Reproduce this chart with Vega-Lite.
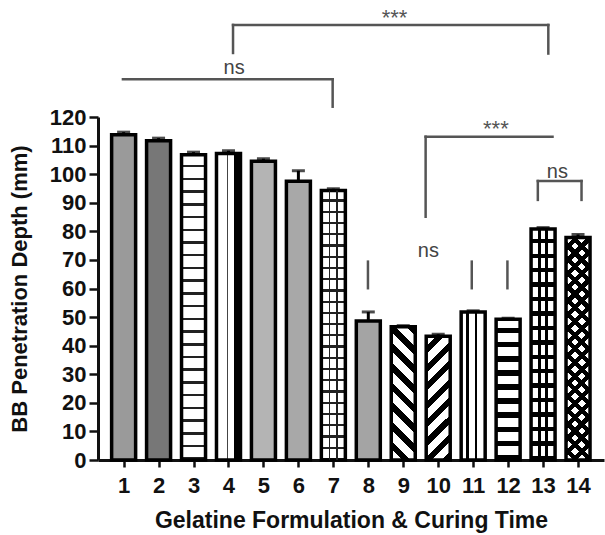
{
"$schema":"https://vega.github.io/schema/vega-lite/v6.json",
"width":506,"height":343,
"autosize":{"type":"none"},
"padding":{"left":98,"top":117,"right":1,"bottom":75},
"background":"white",
"config":{"view":{"stroke":null},"axis":{"grid":false},"font":"Liberation Sans"},
"datasets":{
"bars":[
{"g":1,"depth":113.8,"hi":114.7},
{"g":2,"depth":111.7,"hi":112.6},
{"g":3,"depth":106.8,"hi":107.7},
{"g":4,"depth":107.2,"hi":108.2},
{"g":5,"depth":104.5,"hi":105.4},
{"g":6,"depth":97.5,"hi":101.2},
{"g":7,"depth":94.3,"hi":94.9},
{"g":8,"depth":48.6,"hi":51.8},
{"g":9,"depth":46.6,"hi":47},
{"g":10,"depth":43.3,"hi":44},
{"g":11,"depth":51.8,"hi":52.2},
{"g":12,"depth":49.2,"hi":49.6},
{"g":13,"depth":80.8,"hi":81.3},
{"g":14,"depth":77.8,"hi":78.9}
],
"segs":[
{"g":4.13,"g2":13.15,"depth":152.2,"depth2":152.2},
{"g":4.13,"g2":4.13,"depth":152.2,"depth2":142.4},
{"g":13.15,"g2":13.15,"depth":152.2,"depth2":142.2},
{"g":0.98,"g2":6.98,"depth":133.2,"depth2":133.2},
{"g":6.98,"g2":6.98,"depth":133.2,"depth2":123.6},
{"g":9.64,"g2":13.27,"depth":113.1,"depth2":113.1},
{"g":9.64,"g2":9.64,"depth":113.1,"depth2":85.1},
{"g":12.85,"g2":14.1,"depth":97.6,"depth2":97.6},
{"g":12.85,"g2":12.85,"depth":97.6,"depth2":91},
{"g":14.1,"g2":14.1,"depth":97.6,"depth2":91},
{"g":7.99,"g2":7.99,"depth":69.4,"depth2":60.1},
{"g":10.96,"g2":10.96,"depth":69.4,"depth2":60.1},
{"g":11.98,"g2":11.98,"depth":69.4,"depth2":60.1}
],
"labels":[
{"g":8.75,"depth":156.4,"t":"***"},
{"g":11.65,"depth":117.6,"t":"***"},
{"g":4.16,"depth":137.1,"t":"ns"},
{"g":13.41,"depth":100.9,"t":"ns"},
{"g":9.72,"depth":73.1,"t":"ns"}
]
},
"data":{"name":"bars"},
"encoding":{
"x":{"field":"g","type":"quantitative","scale":{"domain":[0.41,14.6],"nice":false,"zero":false},
"axis":{"values":[1,2,3,4,5,6,7,8,9,10,11,12,13,14],"format":"d","title":"Gelatine Formulation & Curing Time","labelFont":"Liberation Sans","labelFontWeight":"bold","labelFontSize":22,"labelColor":"#111","labelPadding":8,"labelFlush":false,"labelOverlap":false,"labelBound":false,"tickSize":7,"tickWidth":2.5,"tickColor":"#111","domainColor":"#111","domainWidth":3,"titleFont":"Liberation Sans","titleFontWeight":"bold","titleFontSize":23,"titleColor":"#111","titlePadding":13}},
"y":{"field":"depth","type":"quantitative","scale":{"domain":[0,120],"nice":false},
"axis":{"values":[0,10,20,30,40,50,60,70,80,90,100,110,120],"format":"d","title":"BB Penetration Depth (mm)","labelFont":"Liberation Sans","labelFontWeight":"bold","labelFontSize":22,"labelColor":"#111","labelPadding":3,"labelOverlap":false,"labelBound":false,"tickSize":9,"tickWidth":2.5,"tickColor":"#111","domainColor":"#111","domainWidth":3,"titleFont":"Liberation Sans","titleFontWeight":"bold","titleFontSize":22,"titleColor":"#111","titlePadding":18}}
},
"layer":[
{"transform":[{"filter":"datum.g==1||datum.g==2||datum.g==5||datum.g==6||datum.g==8"}],
"mark":{"type":"bar","orient":"vertical","width":24,"stroke":"#000","strokeWidth":3.5},
"encoding":{"fill":{"field":"g","type":"nominal","scale":{"domain":[1,2,5,6,8],"range":["#9a9a9a","#777777","#b4b4b4","#a8a8a8","#a4a4a4"]},"legend":null}}},
{"transform":[{"filter":"datum.g==3||datum.g==7"}],
"mark":{"type":"bar","orient":"vertical","width":24,"stroke":"#000","strokeWidth":3.5,
"fill":{"gradient":"linear","x1":0,"y1":0,"x2":0,"y2":1,"stops":[
{"offset":0,"color":"#fff"},{"offset":0.0333,"color":"#fff"},{"offset":0.0333,"color":"#222"},{"offset":0.0417,"color":"#222"},
{"offset":0.0417,"color":"#fff"},{"offset":0.075,"color":"#fff"},{"offset":0.075,"color":"#222"},{"offset":0.0833,"color":"#222"},
{"offset":0.0833,"color":"#fff"},{"offset":0.1167,"color":"#fff"},{"offset":0.1167,"color":"#222"},{"offset":0.125,"color":"#222"},
{"offset":0.125,"color":"#fff"},{"offset":0.1583,"color":"#fff"},{"offset":0.1583,"color":"#222"},{"offset":0.1667,"color":"#222"},
{"offset":0.1667,"color":"#fff"},{"offset":0.2,"color":"#fff"},{"offset":0.2,"color":"#222"},{"offset":0.2083,"color":"#222"},
{"offset":0.2083,"color":"#fff"},{"offset":0.2417,"color":"#fff"},{"offset":0.2417,"color":"#222"},{"offset":0.25,"color":"#222"},
{"offset":0.25,"color":"#fff"},{"offset":0.2833,"color":"#fff"},{"offset":0.2833,"color":"#222"},{"offset":0.2917,"color":"#222"},
{"offset":0.2917,"color":"#fff"},{"offset":0.325,"color":"#fff"},{"offset":0.325,"color":"#222"},{"offset":0.3333,"color":"#222"},
{"offset":0.3333,"color":"#fff"},{"offset":0.3667,"color":"#fff"},{"offset":0.3667,"color":"#222"},{"offset":0.375,"color":"#222"},
{"offset":0.375,"color":"#fff"},{"offset":0.4083,"color":"#fff"},{"offset":0.4083,"color":"#222"},{"offset":0.4167,"color":"#222"},
{"offset":0.4167,"color":"#fff"},{"offset":0.45,"color":"#fff"},{"offset":0.45,"color":"#222"},{"offset":0.4583,"color":"#222"},
{"offset":0.4583,"color":"#fff"},{"offset":0.4917,"color":"#fff"},{"offset":0.4917,"color":"#222"},{"offset":0.5,"color":"#222"},
{"offset":0.5,"color":"#fff"},{"offset":0.5333,"color":"#fff"},{"offset":0.5333,"color":"#222"},{"offset":0.5417,"color":"#222"},
{"offset":0.5417,"color":"#fff"},{"offset":0.575,"color":"#fff"},{"offset":0.575,"color":"#222"},{"offset":0.5833,"color":"#222"},
{"offset":0.5833,"color":"#fff"},{"offset":0.6167,"color":"#fff"},{"offset":0.6167,"color":"#222"},{"offset":0.625,"color":"#222"},
{"offset":0.625,"color":"#fff"},{"offset":0.6583,"color":"#fff"},{"offset":0.6583,"color":"#222"},{"offset":0.6667,"color":"#222"},
{"offset":0.6667,"color":"#fff"},{"offset":0.7,"color":"#fff"},{"offset":0.7,"color":"#222"},{"offset":0.7083,"color":"#222"},
{"offset":0.7083,"color":"#fff"},{"offset":0.7417,"color":"#fff"},{"offset":0.7417,"color":"#222"},{"offset":0.75,"color":"#222"},
{"offset":0.75,"color":"#fff"},{"offset":0.7833,"color":"#fff"},{"offset":0.7833,"color":"#222"},{"offset":0.7917,"color":"#222"},
{"offset":0.7917,"color":"#fff"},{"offset":0.825,"color":"#fff"},{"offset":0.825,"color":"#222"},{"offset":0.8333,"color":"#222"},
{"offset":0.8333,"color":"#fff"},{"offset":0.8667,"color":"#fff"},{"offset":0.8667,"color":"#222"},{"offset":0.875,"color":"#222"},
{"offset":0.875,"color":"#fff"},{"offset":0.9083,"color":"#fff"},{"offset":0.9083,"color":"#222"},{"offset":0.9167,"color":"#222"},
{"offset":0.9167,"color":"#fff"},{"offset":0.95,"color":"#fff"},{"offset":0.95,"color":"#222"},{"offset":0.9583,"color":"#222"},
{"offset":0.9583,"color":"#fff"},{"offset":0.9917,"color":"#fff"},{"offset":0.9917,"color":"#222"},{"offset":1,"color":"#222"}
]}}},
{"transform":[{"filter":"datum.g==7"}],
"mark":{"type":"bar","orient":"vertical","width":24,"strokeWidth":0,
"fill":{"gradient":"linear","x1":0,"y1":0,"x2":1,"y2":0,"stops":[
{"offset":0,"color":"rgba(0,0,0,0)"},{"offset":0.3,"color":"rgba(0,0,0,0)"},{"offset":0.3,"color":"#222"},{"offset":0.38,"color":"#222"},{"offset":0.38,"color":"rgba(0,0,0,0)"},{"offset":0.62,"color":"rgba(0,0,0,0)"},{"offset":0.62,"color":"#222"},{"offset":0.7,"color":"#222"},{"offset":0.7,"color":"rgba(0,0,0,0)"},{"offset":1,"color":"rgba(0,0,0,0)"}
]}}},
{"transform":[{"filter":"datum.g==4"}],
"mark":{"type":"bar","orient":"vertical","width":24,"stroke":"#000","strokeWidth":3.5,
"fill":{"gradient":"linear","x1":0,"y1":0,"x2":1,"y2":0,"stops":[
{"offset":0,"color":"#fff"},{"offset":0.42,"color":"#fff"},{"offset":0.42,"color":"#444"},{"offset":0.5,"color":"#444"},{"offset":0.5,"color":"#fff"},{"offset":0.72,"color":"#fff"},{"offset":0.72,"color":"#000"},{"offset":1,"color":"#000"}
]}}},
{"transform":[{"filter":"datum.g==11"}],
"mark":{"type":"bar","orient":"vertical","width":24,"stroke":"#000","strokeWidth":3.5,
"fill":{"gradient":"linear","x1":0,"y1":0,"x2":1,"y2":0,"stops":[
{"offset":0,"color":"#fff"},{"offset":0.2,"color":"#fff"},{"offset":0.2,"color":"#000"},{"offset":0.32,"color":"#000"},{"offset":0.32,"color":"#fff"},{"offset":0.56,"color":"#fff"},{"offset":0.56,"color":"#000"},{"offset":0.68,"color":"#000"},{"offset":0.68,"color":"#fff"},{"offset":1,"color":"#fff"}
]}}},
{"transform":[{"filter":"datum.g==12"}],
"mark":{"type":"bar","orient":"vertical","width":24,"stroke":"#000","strokeWidth":3.5,
"fill":{"gradient":"linear","x1":0,"y1":0,"x2":0,"y2":1,"stops":[
{"offset":0,"color":"#fff"},{"offset":0.062,"color":"#fff"},{"offset":0.062,"color":"#000"},{"offset":0.1,"color":"#000"},
{"offset":0.1,"color":"#fff"},{"offset":0.162,"color":"#fff"},{"offset":0.162,"color":"#000"},{"offset":0.2,"color":"#000"},
{"offset":0.2,"color":"#fff"},{"offset":0.262,"color":"#fff"},{"offset":0.262,"color":"#000"},{"offset":0.3,"color":"#000"},
{"offset":0.3,"color":"#fff"},{"offset":0.362,"color":"#fff"},{"offset":0.362,"color":"#000"},{"offset":0.4,"color":"#000"},
{"offset":0.4,"color":"#fff"},{"offset":0.462,"color":"#fff"},{"offset":0.462,"color":"#000"},{"offset":0.5,"color":"#000"},
{"offset":0.5,"color":"#fff"},{"offset":0.562,"color":"#fff"},{"offset":0.562,"color":"#000"},{"offset":0.6,"color":"#000"},
{"offset":0.6,"color":"#fff"},{"offset":0.662,"color":"#fff"},{"offset":0.662,"color":"#000"},{"offset":0.7,"color":"#000"},
{"offset":0.7,"color":"#fff"},{"offset":0.762,"color":"#fff"},{"offset":0.762,"color":"#000"},{"offset":0.8,"color":"#000"},
{"offset":0.8,"color":"#fff"},{"offset":0.862,"color":"#fff"},{"offset":0.862,"color":"#000"},{"offset":0.9,"color":"#000"},
{"offset":0.9,"color":"#fff"},{"offset":0.962,"color":"#fff"},{"offset":0.962,"color":"#000"},{"offset":1,"color":"#000"}
]}}},
{"transform":[{"filter":"datum.g==13"}],
"mark":{"type":"bar","orient":"vertical","width":24,"stroke":"#000","strokeWidth":3.5,
"fill":{"gradient":"linear","x1":0,"y1":0,"x2":0,"y2":1,"stops":[
{"offset":0,"color":"#fff"},{"offset":0.04375,"color":"#fff"},{"offset":0.04375,"color":"#000"},{"offset":0.0625,"color":"#000"},
{"offset":0.0625,"color":"#fff"},{"offset":0.10625,"color":"#fff"},{"offset":0.10625,"color":"#000"},{"offset":0.125,"color":"#000"},
{"offset":0.125,"color":"#fff"},{"offset":0.16875,"color":"#fff"},{"offset":0.16875,"color":"#000"},{"offset":0.1875,"color":"#000"},
{"offset":0.1875,"color":"#fff"},{"offset":0.23125,"color":"#fff"},{"offset":0.23125,"color":"#000"},{"offset":0.25,"color":"#000"},
{"offset":0.25,"color":"#fff"},{"offset":0.29375,"color":"#fff"},{"offset":0.29375,"color":"#000"},{"offset":0.3125,"color":"#000"},
{"offset":0.3125,"color":"#fff"},{"offset":0.35625,"color":"#fff"},{"offset":0.35625,"color":"#000"},{"offset":0.375,"color":"#000"},
{"offset":0.375,"color":"#fff"},{"offset":0.41875,"color":"#fff"},{"offset":0.41875,"color":"#000"},{"offset":0.4375,"color":"#000"},
{"offset":0.4375,"color":"#fff"},{"offset":0.48125,"color":"#fff"},{"offset":0.48125,"color":"#000"},{"offset":0.5,"color":"#000"},
{"offset":0.5,"color":"#fff"},{"offset":0.54375,"color":"#fff"},{"offset":0.54375,"color":"#000"},{"offset":0.5625,"color":"#000"},
{"offset":0.5625,"color":"#fff"},{"offset":0.60625,"color":"#fff"},{"offset":0.60625,"color":"#000"},{"offset":0.625,"color":"#000"},
{"offset":0.625,"color":"#fff"},{"offset":0.66875,"color":"#fff"},{"offset":0.66875,"color":"#000"},{"offset":0.6875,"color":"#000"},
{"offset":0.6875,"color":"#fff"},{"offset":0.73125,"color":"#fff"},{"offset":0.73125,"color":"#000"},{"offset":0.75,"color":"#000"},
{"offset":0.75,"color":"#fff"},{"offset":0.79375,"color":"#fff"},{"offset":0.79375,"color":"#000"},{"offset":0.8125,"color":"#000"},
{"offset":0.8125,"color":"#fff"},{"offset":0.85625,"color":"#fff"},{"offset":0.85625,"color":"#000"},{"offset":0.875,"color":"#000"},
{"offset":0.875,"color":"#fff"},{"offset":0.91875,"color":"#fff"},{"offset":0.91875,"color":"#000"},{"offset":0.9375,"color":"#000"},
{"offset":0.9375,"color":"#fff"},{"offset":0.98125,"color":"#fff"},{"offset":0.98125,"color":"#000"},{"offset":1,"color":"#000"}
]}}},
{"transform":[{"filter":"datum.g==13"}],
"mark":{"type":"bar","orient":"vertical","width":24,"strokeWidth":0,
"fill":{"gradient":"linear","x1":0,"y1":0,"x2":1,"y2":0,"stops":[
{"offset":0,"color":"rgba(0,0,0,0)"},{"offset":0.28,"color":"rgba(0,0,0,0)"},{"offset":0.28,"color":"#000"},{"offset":0.42,"color":"#000"},{"offset":0.42,"color":"rgba(0,0,0,0)"},{"offset":0.58,"color":"rgba(0,0,0,0)"},{"offset":0.58,"color":"#000"},{"offset":0.72,"color":"#000"},{"offset":0.72,"color":"rgba(0,0,0,0)"},{"offset":1,"color":"rgba(0,0,0,0)"}
]}}},
{"transform":[{"filter":"datum.g==9"}],
"mark":{"type":"bar","orient":"vertical","width":24,"stroke":"#000","strokeWidth":3.5,
"fill":{"gradient":"linear","x1":0,"y1":1,"x2":0.206,"y2":-0.143,"stops":[
{"offset":0,"color":"#fff"},{"offset":0.06875,"color":"#fff"},{"offset":0.06875,"color":"#000"},{"offset":0.125,"color":"#000"},
{"offset":0.125,"color":"#fff"},{"offset":0.19375,"color":"#fff"},{"offset":0.19375,"color":"#000"},{"offset":0.25,"color":"#000"},
{"offset":0.25,"color":"#fff"},{"offset":0.31875,"color":"#fff"},{"offset":0.31875,"color":"#000"},{"offset":0.375,"color":"#000"},
{"offset":0.375,"color":"#fff"},{"offset":0.44375,"color":"#fff"},{"offset":0.44375,"color":"#000"},{"offset":0.5,"color":"#000"},
{"offset":0.5,"color":"#fff"},{"offset":0.56875,"color":"#fff"},{"offset":0.56875,"color":"#000"},{"offset":0.625,"color":"#000"},
{"offset":0.625,"color":"#fff"},{"offset":0.69375,"color":"#fff"},{"offset":0.69375,"color":"#000"},{"offset":0.75,"color":"#000"},
{"offset":0.75,"color":"#fff"},{"offset":0.81875,"color":"#fff"},{"offset":0.81875,"color":"#000"},{"offset":0.875,"color":"#000"},
{"offset":0.875,"color":"#fff"},{"offset":0.94375,"color":"#fff"},{"offset":0.94375,"color":"#000"},{"offset":1,"color":"#000"}
]}}},
{"transform":[{"filter":"datum.g==10"}],
"mark":{"type":"bar","orient":"vertical","width":24,"stroke":"#000","strokeWidth":3.5,
"fill":{"gradient":"linear","x1":0,"y1":0,"x2":0.223,"y2":1.151,"stops":[
{"offset":0,"color":"#fff"},{"offset":0.06875,"color":"#fff"},{"offset":0.06875,"color":"#000"},{"offset":0.125,"color":"#000"},
{"offset":0.125,"color":"#fff"},{"offset":0.19375,"color":"#fff"},{"offset":0.19375,"color":"#000"},{"offset":0.25,"color":"#000"},
{"offset":0.25,"color":"#fff"},{"offset":0.31875,"color":"#fff"},{"offset":0.31875,"color":"#000"},{"offset":0.375,"color":"#000"},
{"offset":0.375,"color":"#fff"},{"offset":0.44375,"color":"#fff"},{"offset":0.44375,"color":"#000"},{"offset":0.5,"color":"#000"},
{"offset":0.5,"color":"#fff"},{"offset":0.56875,"color":"#fff"},{"offset":0.56875,"color":"#000"},{"offset":0.625,"color":"#000"},
{"offset":0.625,"color":"#fff"},{"offset":0.69375,"color":"#fff"},{"offset":0.69375,"color":"#000"},{"offset":0.75,"color":"#000"},
{"offset":0.75,"color":"#fff"},{"offset":0.81875,"color":"#fff"},{"offset":0.81875,"color":"#000"},{"offset":0.875,"color":"#000"},
{"offset":0.875,"color":"#fff"},{"offset":0.94375,"color":"#fff"},{"offset":0.94375,"color":"#000"},{"offset":1,"color":"#000"}
]}}},
{"transform":[{"filter":"datum.g==14"}],
"mark":{"type":"bar","orient":"vertical","width":24,"stroke":"#000","strokeWidth":3.5,
"fill":{"gradient":"linear","x1":0,"y1":0,"x2":0.1182,"y2":1.0957,"stops":[
{"offset":0,"color":"#fff"},{"offset":0.03056,"color":"#fff"},{"offset":0.03056,"color":"#000"},{"offset":0.05556,"color":"#000"},
{"offset":0.05556,"color":"#fff"},{"offset":0.08611,"color":"#fff"},{"offset":0.08611,"color":"#000"},{"offset":0.11111,"color":"#000"},
{"offset":0.11111,"color":"#fff"},{"offset":0.14167,"color":"#fff"},{"offset":0.14167,"color":"#000"},{"offset":0.16667,"color":"#000"},
{"offset":0.16667,"color":"#fff"},{"offset":0.19722,"color":"#fff"},{"offset":0.19722,"color":"#000"},{"offset":0.22222,"color":"#000"},
{"offset":0.22222,"color":"#fff"},{"offset":0.25278,"color":"#fff"},{"offset":0.25278,"color":"#000"},{"offset":0.27778,"color":"#000"},
{"offset":0.27778,"color":"#fff"},{"offset":0.30833,"color":"#fff"},{"offset":0.30833,"color":"#000"},{"offset":0.33333,"color":"#000"},
{"offset":0.33333,"color":"#fff"},{"offset":0.36389,"color":"#fff"},{"offset":0.36389,"color":"#000"},{"offset":0.38889,"color":"#000"},
{"offset":0.38889,"color":"#fff"},{"offset":0.41944,"color":"#fff"},{"offset":0.41944,"color":"#000"},{"offset":0.44444,"color":"#000"},
{"offset":0.44444,"color":"#fff"},{"offset":0.475,"color":"#fff"},{"offset":0.475,"color":"#000"},{"offset":0.5,"color":"#000"},
{"offset":0.5,"color":"#fff"},{"offset":0.53056,"color":"#fff"},{"offset":0.53056,"color":"#000"},{"offset":0.55556,"color":"#000"},
{"offset":0.55556,"color":"#fff"},{"offset":0.58611,"color":"#fff"},{"offset":0.58611,"color":"#000"},{"offset":0.61111,"color":"#000"},
{"offset":0.61111,"color":"#fff"},{"offset":0.64167,"color":"#fff"},{"offset":0.64167,"color":"#000"},{"offset":0.66667,"color":"#000"},
{"offset":0.66667,"color":"#fff"},{"offset":0.69722,"color":"#fff"},{"offset":0.69722,"color":"#000"},{"offset":0.72222,"color":"#000"},
{"offset":0.72222,"color":"#fff"},{"offset":0.75278,"color":"#fff"},{"offset":0.75278,"color":"#000"},{"offset":0.77778,"color":"#000"},
{"offset":0.77778,"color":"#fff"},{"offset":0.80833,"color":"#fff"},{"offset":0.80833,"color":"#000"},{"offset":0.83333,"color":"#000"},
{"offset":0.83333,"color":"#fff"},{"offset":0.86389,"color":"#fff"},{"offset":0.86389,"color":"#000"},{"offset":0.88889,"color":"#000"},
{"offset":0.88889,"color":"#fff"},{"offset":0.91944,"color":"#fff"},{"offset":0.91944,"color":"#000"},{"offset":0.94444,"color":"#000"},
{"offset":0.94444,"color":"#fff"},{"offset":0.975,"color":"#fff"},{"offset":0.975,"color":"#000"},{"offset":1,"color":"#000"}
]}}},
{"transform":[{"filter":"datum.g==14"}],
"mark":{"type":"bar","orient":"vertical","width":24,"strokeWidth":0,
"fill":{"gradient":"linear","x1":0,"y1":1,"x2":0.1182,"y2":-0.0957,"stops":[
{"offset":0,"color":"rgba(0,0,0,0)"},{"offset":0.03056,"color":"rgba(0,0,0,0)"},{"offset":0.03056,"color":"#000"},{"offset":0.05556,"color":"#000"},
{"offset":0.05556,"color":"rgba(0,0,0,0)"},{"offset":0.08611,"color":"rgba(0,0,0,0)"},{"offset":0.08611,"color":"#000"},{"offset":0.11111,"color":"#000"},
{"offset":0.11111,"color":"rgba(0,0,0,0)"},{"offset":0.14167,"color":"rgba(0,0,0,0)"},{"offset":0.14167,"color":"#000"},{"offset":0.16667,"color":"#000"},
{"offset":0.16667,"color":"rgba(0,0,0,0)"},{"offset":0.19722,"color":"rgba(0,0,0,0)"},{"offset":0.19722,"color":"#000"},{"offset":0.22222,"color":"#000"},
{"offset":0.22222,"color":"rgba(0,0,0,0)"},{"offset":0.25278,"color":"rgba(0,0,0,0)"},{"offset":0.25278,"color":"#000"},{"offset":0.27778,"color":"#000"},
{"offset":0.27778,"color":"rgba(0,0,0,0)"},{"offset":0.30833,"color":"rgba(0,0,0,0)"},{"offset":0.30833,"color":"#000"},{"offset":0.33333,"color":"#000"},
{"offset":0.33333,"color":"rgba(0,0,0,0)"},{"offset":0.36389,"color":"rgba(0,0,0,0)"},{"offset":0.36389,"color":"#000"},{"offset":0.38889,"color":"#000"},
{"offset":0.38889,"color":"rgba(0,0,0,0)"},{"offset":0.41944,"color":"rgba(0,0,0,0)"},{"offset":0.41944,"color":"#000"},{"offset":0.44444,"color":"#000"},
{"offset":0.44444,"color":"rgba(0,0,0,0)"},{"offset":0.475,"color":"rgba(0,0,0,0)"},{"offset":0.475,"color":"#000"},{"offset":0.5,"color":"#000"},
{"offset":0.5,"color":"rgba(0,0,0,0)"},{"offset":0.53056,"color":"rgba(0,0,0,0)"},{"offset":0.53056,"color":"#000"},{"offset":0.55556,"color":"#000"},
{"offset":0.55556,"color":"rgba(0,0,0,0)"},{"offset":0.58611,"color":"rgba(0,0,0,0)"},{"offset":0.58611,"color":"#000"},{"offset":0.61111,"color":"#000"},
{"offset":0.61111,"color":"rgba(0,0,0,0)"},{"offset":0.64167,"color":"rgba(0,0,0,0)"},{"offset":0.64167,"color":"#000"},{"offset":0.66667,"color":"#000"},
{"offset":0.66667,"color":"rgba(0,0,0,0)"},{"offset":0.69722,"color":"rgba(0,0,0,0)"},{"offset":0.69722,"color":"#000"},{"offset":0.72222,"color":"#000"},
{"offset":0.72222,"color":"rgba(0,0,0,0)"},{"offset":0.75278,"color":"rgba(0,0,0,0)"},{"offset":0.75278,"color":"#000"},{"offset":0.77778,"color":"#000"},
{"offset":0.77778,"color":"rgba(0,0,0,0)"},{"offset":0.80833,"color":"rgba(0,0,0,0)"},{"offset":0.80833,"color":"#000"},{"offset":0.83333,"color":"#000"},
{"offset":0.83333,"color":"rgba(0,0,0,0)"},{"offset":0.86389,"color":"rgba(0,0,0,0)"},{"offset":0.86389,"color":"#000"},{"offset":0.88889,"color":"#000"},
{"offset":0.88889,"color":"rgba(0,0,0,0)"},{"offset":0.91944,"color":"rgba(0,0,0,0)"},{"offset":0.91944,"color":"#000"},{"offset":0.94444,"color":"#000"},
{"offset":0.94444,"color":"rgba(0,0,0,0)"},{"offset":0.975,"color":"rgba(0,0,0,0)"},{"offset":0.975,"color":"#000"},{"offset":1,"color":"#000"}
]}}},
{"mark":{"type":"rule","color":"#000","strokeWidth":3},
"encoding":{"y2":{"field":"hi"}}},
{"mark":{"type":"tick","orient":"horizontal","color":"#000","size":13,"thickness":3},
"encoding":{"y":{"field":"hi","type":"quantitative"}}},
{"data":{"name":"segs"},
"mark":{"type":"rule","color":"#555","strokeWidth":2.5,"strokeCap":"square"},
"encoding":{"x2":{"field":"g2"},"y2":{"field":"depth2"}}},
{"data":{"name":"labels"},
"transform":[{"filter":"datum.t=='ns'"}],
"mark":{"type":"text","font":"Liberation Sans","fontSize":20,"color":"#444","baseline":"middle","align":"center","dy":0},
"encoding":{"text":{"field":"t"}}},
{"data":{"name":"labels"},
"transform":[{"filter":"datum.t=='***'"}],
"mark":{"type":"text","font":"Liberation Sans","fontSize":22,"color":"#555","baseline":"middle","align":"center","dy":5},
"encoding":{"text":{"field":"t"}}}
]
}
